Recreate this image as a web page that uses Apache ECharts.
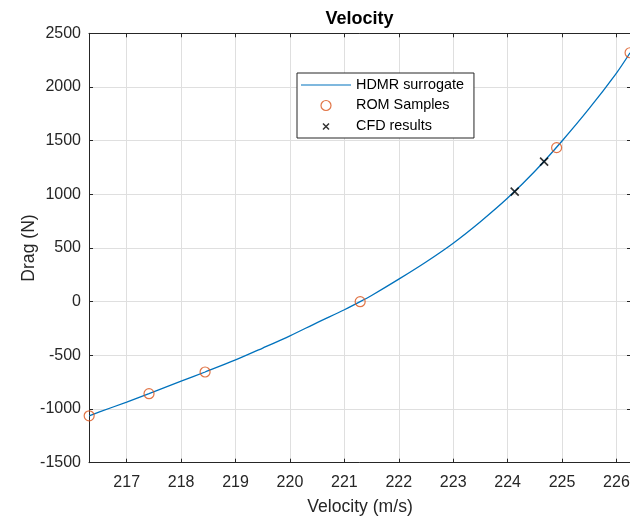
<!DOCTYPE html>
<html>
<head>
<meta charset="utf-8">
<script src="https://cdn.jsdelivr.net/npm/echarts@6/dist/echarts.min.js"></script>
<style>
html,body{margin:0;padding:0;background:#fff;}
#chart{width:630px;height:518px;}
</style>
</head>
<body>
<div id="chart"></div>
<script>
// HDMR surrogate curve (velocity, drag)
const curveVelocity = [216.31, 216.5, 217.0, 217.41, 218.0, 218.44, 219.0, 219.5, 220.0, 220.5, 221.0, 221.29, 221.5, 222.0, 222.5, 223.0, 223.5, 224.0, 224.5, 225.0, 225.5, 226.0, 226.25];
const curveDrag     = [-1063, -1027, -935, -857, -740, -655, -543, -432, -318, -195, -75, 0, 58, 210, 370, 545, 745, 965, 1215, 1497, 1800, 2130, 2319];
// ROM samples
const romVelocity = [216.31, 217.41, 218.44, 221.29, 224.90, 226.25];
const romDrag     = [-1063, -857, -655, 0, 1435, 2319];
// CFD results
const cfdVelocity = [224.13, 224.67];
const cfdDrag     = [1025, 1304];
// axes
const xMin = 216.307, xMax = 226.267;
const yMin = -1500, yMax = 2500, yStep = 500;
const titleText = 'Velocity';
const xName = 'Velocity (m/s)';
const yName = 'Drag (N)';
const seriesNames = ['HDMR surrogate', 'ROM Samples', 'CFD results'];

const FONT = '"Liberation Sans", Arial, Helvetica, sans-serif';
const AX = '#262626';
const GRID = '#dfdfdf';
const BLUE = '#0072BD';
const ORANGE = '#D95319';

const zip = (a, b) => a.map((v, i) => [v, b[i]]);

const chart = echarts.init(document.getElementById('chart'), null, {renderer: 'canvas'});

const xBase = {
  type: 'value', min: xMin, max: xMax, minInterval: 1, maxInterval: 1,
  axisLine: {show: true, onZero: false, lineStyle: {color: AX, width: 1}},
  axisTick: {show: true, inside: true, length: 4, lineStyle: {color: AX}},
};
const yBase = {
  type: 'value', min: yMin, max: yMax, interval: yStep,
  axisLine: {show: true, onZero: false, lineStyle: {color: AX, width: 1}},
  axisTick: {show: true, inside: true, length: 4, lineStyle: {color: AX}},
};

chart.setOption({
  animation: false,
  backgroundColor: '#fff',
  title: {
    text: titleText, left: 359.5, top: 10, textAlign: 'center', padding: 0,
    textStyle: {fontFamily: FONT, fontSize: 18, fontWeight: 'bold', color: '#000'}
  },
  grid: {left: 89, right: -1, top: 33.3, bottom: 55.3, containLabel: false, outerBoundsMode: 'none'},
  legend: {
    orient: 'vertical', left: 297, top: 73,
    padding: [5, 10, 4, 4], itemGap: 6.5, itemWidth: 50, itemHeight: 10,
    backgroundColor: '#fff', borderColor: AX, borderWidth: 1, borderRadius: 0,
    textStyle: {fontFamily: FONT, fontSize: 14.4, color: '#000', padding: [0, 0, 0, 0]},
    selectedMode: false,
    data: [
      {name: seriesNames[0], icon: 'path://M0,0H50V1.2H0Z', itemStyle: {color: BLUE, borderWidth: 0}},
      {name: seriesNames[1], icon: 'circle', itemStyle: {color: 'rgba(255,255,255,0)', borderColor: ORANGE, borderWidth: 1.2}},
      {name: seriesNames[2], icon: 'path://M0,0M10,10M2,2L8,8M8,2L2,8', itemStyle: {color: 'none', borderColor: '#000', borderWidth: 1.5}}
    ]
  },
  xAxis: [
    Object.assign({}, xBase, {
      position: 'bottom',
      name: xName, nameLocation: 'middle', nameGap: 35, nameMoveOverlap: false,
      nameTextStyle: {fontFamily: FONT, fontSize: 17.6, color: AX},
      axisLabel: {
        show: true, margin: 12, showMinLabel: false, showMaxLabel: false,
        fontFamily: FONT, fontSize: 16, color: AX,
        formatter: v => (Math.abs(v - Math.round(v)) < 1e-6 ? String(Math.round(v)) : '')
      },
      splitLine: {show: true, lineStyle: {color: GRID, width: 1}}
    }),
    Object.assign({}, xBase, {
      position: 'top', axisLabel: {show: false}, splitLine: {show: false}
    })
  ],
  yAxis: [
    Object.assign({}, yBase, {
      position: 'left',
      name: yName, nameLocation: 'middle', nameGap: 51, nameMoveOverlap: false,
      nameTextStyle: {fontFamily: FONT, fontSize: 17.6, color: AX},
      axisLabel: {show: true, margin: 8, fontFamily: FONT, fontSize: 16, color: AX, formatter: v => String(v)},
      splitLine: {show: true, lineStyle: {color: GRID, width: 1}}
    }),
    Object.assign({}, yBase, {
      position: 'right', axisLine: {show: false}, axisLabel: {show: false}, splitLine: {show: false}
    })
  ],
  series: [
    {
      name: seriesNames[0], type: 'line', xAxisIndex: 0, yAxisIndex: 0,
      data: zip(curveVelocity, curveDrag), smooth: 0.3, showSymbol: false, symbol: 'none',
      lineStyle: {color: BLUE, width: 1.3}, itemStyle: {color: BLUE}, z: 2
    },
    {
      name: seriesNames[1], type: 'scatter', xAxisIndex: 0, yAxisIndex: 0,
      data: zip(romVelocity, romDrag), symbol: 'circle', symbolSize: 10,
      itemStyle: {color: 'rgba(255,255,255,0)', borderColor: ORANGE, borderWidth: 1.2}, z: 3
    },
    {
      name: seriesNames[2], type: 'scatter', xAxisIndex: 0, yAxisIndex: 0,
      data: zip(cfdVelocity, cfdDrag), symbol: 'path://M0,0L10,10M10,0L0,10', symbolSize: 8,
      itemStyle: {color: 'none', borderColor: '#000', borderWidth: 1.6}, z: 4
    }
  ]
});
</script>
</body>
</html>
